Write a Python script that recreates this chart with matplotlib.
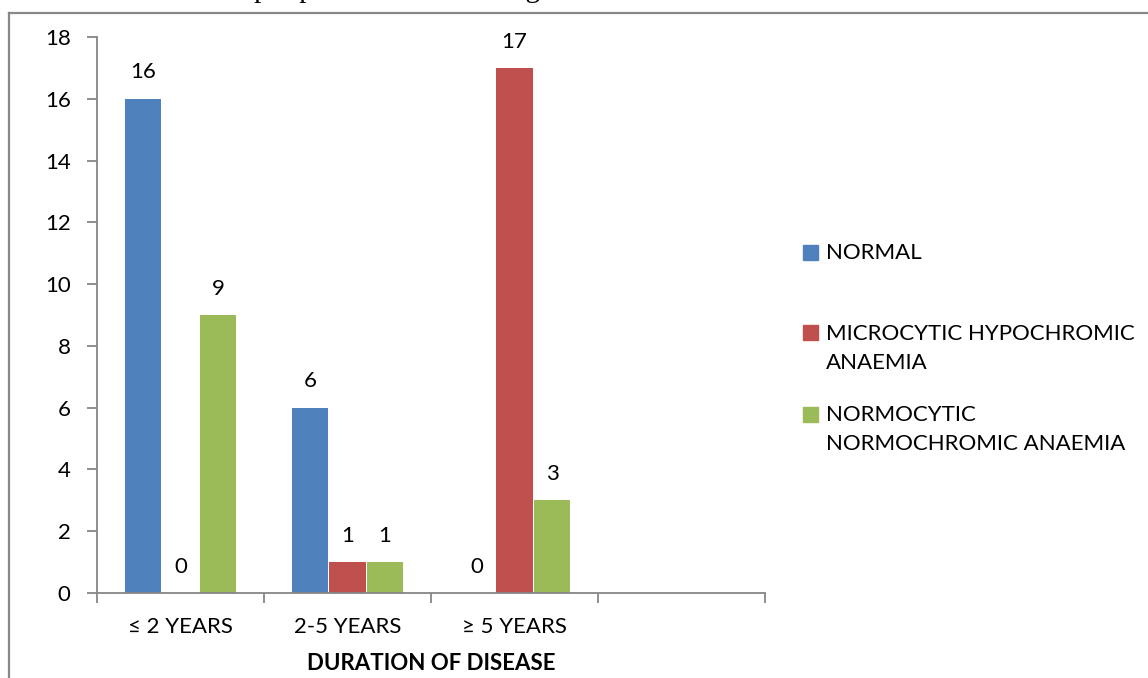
import numpy as np
import matplotlib
matplotlib.use("Agg")
from matplotlib import pyplot as plt
from matplotlib.patches import Rectangle
from matplotlib.lines import Line2D

# counts of smear findings per duration group
durations = ["\u2264 2 YEARS", "2-5 YEARS", "\u2265 5 YEARS", ""]
normal = [16, 6, 0]
microcytic = [0, 1, 17]
normocytic = [9, 1, 3]
series_names = ["NORMAL", "MICROCYTIC HYPOCHROMIC\nANAEMIA", "NORMOCYTIC\nNORMOCHROMIC ANAEMIA"]
colors = ["#4F81BD", "#C0504D", "#9BBB59"]

plt.rcParams["font.family"] = ["Lato", "DejaVu Sans"]
axis_grey = "#868686"
fs = 16

fig = plt.figure(figsize=(11.48, 6.78), dpi=100)
ax = fig.add_axes([0.0845, 0.1254, 0.5819, 0.82])

x = np.arange(len(normal))
width = 0.22
offsets = [-0.225, 0.0, 0.225]
for vals, off, col in zip([normal, microcytic, normocytic], offsets, colors):
    bars = ax.bar(x + off, vals, width, color=col, zorder=2)
    for b, v in zip(bars, vals):
        ax.annotate(str(v), (b.get_x() + b.get_width() / 2, v),
                    xytext=(0, 19), textcoords="offset points",
                    ha="center", va="center", fontsize=fs)

ax.set_xlim(-0.5, len(durations) - 0.5)
ax.set_ylim(0, 18)
ax.set_yticks(np.arange(0, 19, 2))
ax.set_xticks(np.arange(len(durations)))
ax.set_xticklabels(durations, fontsize=fs)
ax.set_xticks(np.arange(len(durations) + 1) - 0.5, minor=True)
ax.tick_params(axis="x", which="major", length=0, pad=17)
ax.tick_params(axis="x", which="minor", length=7, color=axis_grey, width=1.3)
ax.tick_params(axis="y", length=7, color=axis_grey, width=1.3, labelsize=fs, pad=12)
for s in ["top", "right"]:
    ax.spines[s].set_visible(False)
for s in ["left", "bottom"]:
    ax.spines[s].set_color(axis_grey)
    ax.spines[s].set_linewidth(1.3)
ax.set_xlabel("DURATION OF DISEASE", fontsize=fs, fontweight="bold", labelpad=12)

# legend drawn as swatches and text on the right
legend_y = [0.628, 0.509, 0.389]
for name, col, ly in zip(series_names, colors, legend_y):
    fig.patches.append(Rectangle((0.6995, ly - 0.011), 0.013, 0.022,
                                 transform=fig.transFigure, color=col))
    fig.text(0.7195, ly + 0.013, name, ha="left", va="top", fontsize=fs,
             linespacing=1.55)

# frame and the caption running off the top edge
fig.lines.append(Line2D([0.008, 0.008], [0.981, 0.0], transform=fig.transFigure,
                        color="#888888", lw=1.6))
fig.lines.append(Line2D([0.008, 1.0], [0.981, 0.981], transform=fig.transFigure,
                        color="#888888", lw=1.6))
fig.text(0.009, 1.0045, "Correlation between peripheral smear findings and duration of",
         ha="left", va="baseline", fontsize=21, family="Liberation Serif")

fig.savefig("out.png", dpi=100)
